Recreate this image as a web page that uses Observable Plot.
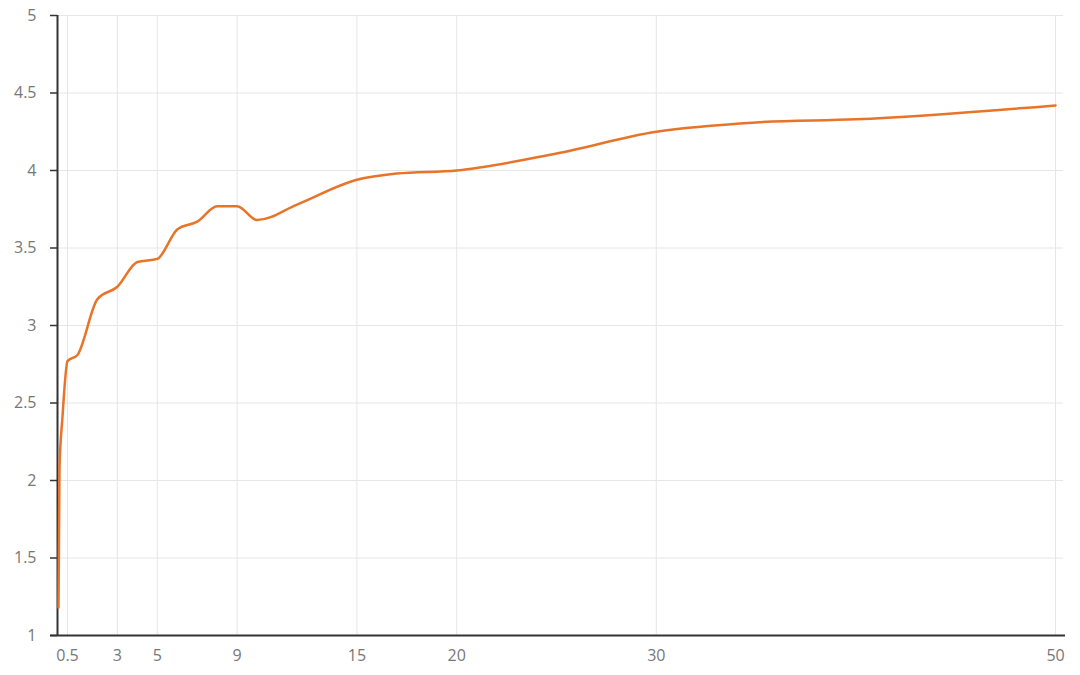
<!DOCTYPE html>
<html><head><meta charset="utf-8">
<script src="https://cdn.jsdelivr.net/npm/d3@7"></script>
<script src="https://cdn.jsdelivr.net/npm/@observablehq/plot@0.6"></script>
<style>body{margin:0;background:#fff}</style>
</head><body><div id="chart"></div>
<script>
const xValues = [0.05, 0.1, 0.25, 0.5, 1, 2, 3, 4, 5, 6, 7, 8, 9, 10, 12, 15, 17, 20, 25, 30, 35, 40, 50];
const yValues = [1.18, 2.08, 2.41, 2.77, 2.81, 3.17, 3.25, 3.41, 3.43, 3.62, 3.67, 3.77, 3.77, 3.68, 3.78, 3.94, 3.98, 4.00, 4.11, 4.25, 4.31, 4.33, 4.42];
const xTicks = [0.5, 3, 5, 9, 15, 20, 30, 50];
const yTicks = [1, 1.5, 2, 2.5, 3, 3.5, 4, 4.5, 5];
const data = xValues.map((x, i) => ({x, y: yValues[i]}));

const chart = Plot.plot({
  width: 1080, height: 675,
  marginTop: 15, marginBottom: 40, marginLeft: 57, marginRight: 17,
  style: {fontFamily: "'Open Sans', sans-serif", fontSize: "16px", color: "#777", background: "#fff"},
  x: {domain: [0, 50.4]},
  y: {domain: [1, 5]},
  marks: [
    Plot.gridX(xTicks, {stroke: "#e6e6e6", strokeOpacity: 1}),
    Plot.gridY(yTicks, {stroke: "#e6e6e6", strokeOpacity: 1}),
    Plot.axisY(yTicks, {tickSize: 7, tickPadding: 14, stroke: "#333", strokeWidth: 1.5, fill: "#777", label: null, tickFormat: d => String(d)}),
    Plot.axisX(xTicks, {tickSize: 0, tickPadding: 14, fill: "#777", label: null, tickFormat: d => String(d)}),
    Plot.ruleX([0], {stroke: "#333", strokeWidth: 2}),
    Plot.ruleY([1], {stroke: "#333", strokeWidth: 2, insetLeft: -7, insetRight: -2}),
    Plot.line(data, {x: "x", y: "y", stroke: "#e8742a", strokeWidth: 2.5, curve: "monotone-x"})
  ]
});
document.getElementById("chart").append(chart);
</script>
</body></html>
